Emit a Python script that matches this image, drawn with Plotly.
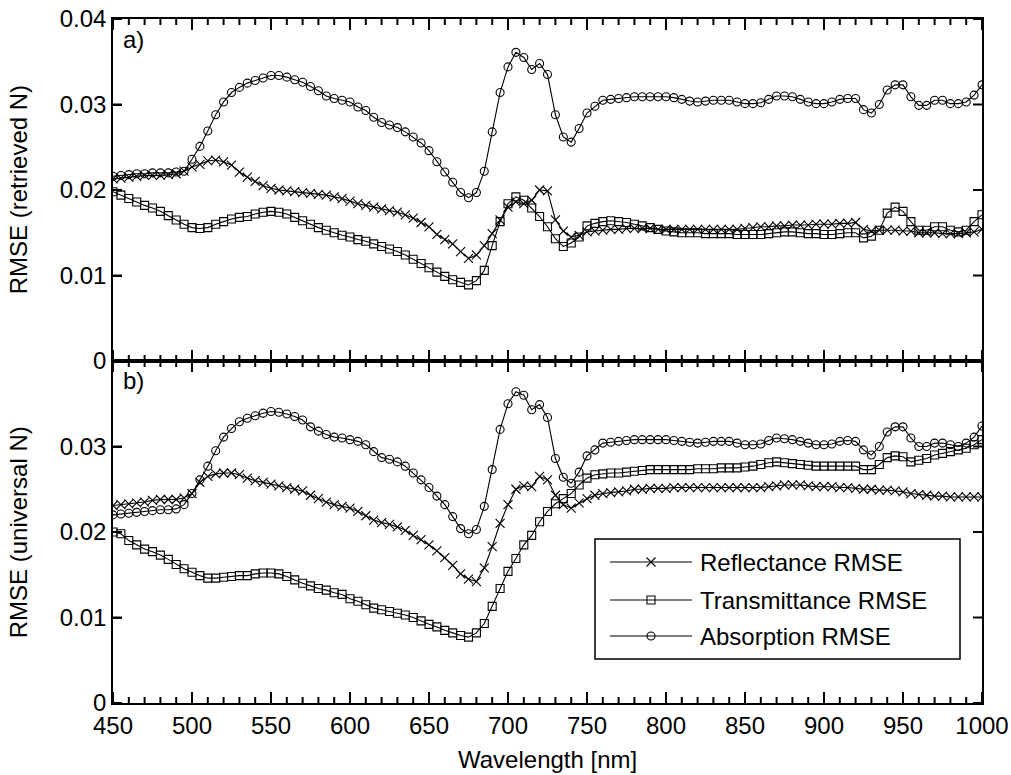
import plotly.graph_objects as go

# Wavelength grid (nm), 5 nm sampling
wavelength = list(range(450, 1001, 5))

# a) RMSE with retrieved N
refl_retrieved = [
    0.0213, 0.0214, 0.0215, 0.0216, 0.0217, 0.0217, 0.0217, 0.0218, 0.0219, 0.0222,
    0.0227, 0.0230, 0.0234, 0.0235, 0.0233, 0.0229, 0.0221, 0.0215, 0.0210, 0.0205,
    0.0202, 0.0200, 0.0199, 0.0198, 0.0197, 0.0196, 0.0195, 0.0194, 0.0192, 0.0190,
    0.0187, 0.0184, 0.0182, 0.0180, 0.0178, 0.0176, 0.0174, 0.0171, 0.0167, 0.0162,
    0.0157, 0.0148, 0.0142, 0.0137, 0.0128, 0.0120, 0.0124, 0.0135, 0.0149, 0.0165,
    0.0180, 0.0186, 0.0184, 0.0188, 0.0200, 0.0199, 0.0165, 0.0152, 0.0145, 0.0147,
    0.0151, 0.0152, 0.0153, 0.0154, 0.0154, 0.0155, 0.0155, 0.0155, 0.0155, 0.0154,
    0.0154, 0.0154, 0.0154, 0.0154, 0.0154, 0.0154, 0.0154, 0.0154, 0.0154, 0.0154,
    0.0155, 0.0156, 0.0157, 0.0157, 0.0158, 0.0158, 0.0159, 0.0159, 0.0159, 0.0160,
    0.0160, 0.0160, 0.0161, 0.0161, 0.0162, 0.0154, 0.0152, 0.0153, 0.0153, 0.0153,
    0.0152, 0.0152, 0.0150, 0.0150, 0.0150, 0.0149, 0.0149, 0.0149, 0.0150, 0.0151,
    0.0154,
]
trans_retrieved = [
    0.0198, 0.0194, 0.0190, 0.0186, 0.0182, 0.0179, 0.0175, 0.0170, 0.0165, 0.0160,
    0.0156, 0.0155, 0.0156, 0.0160, 0.0163, 0.0166, 0.0168, 0.0169, 0.0172, 0.0174,
    0.0175, 0.0174, 0.0172, 0.0168, 0.0164, 0.0160, 0.0156, 0.0153, 0.0150, 0.0147,
    0.0145, 0.0142, 0.0140, 0.0137, 0.0134, 0.0131, 0.0128, 0.0124, 0.0119, 0.0114,
    0.0109, 0.0104, 0.0099, 0.0095, 0.0092, 0.0089, 0.0094, 0.0106, 0.0135, 0.0163,
    0.0184, 0.0192, 0.0188, 0.0179, 0.0169, 0.0157, 0.0143, 0.0134, 0.0138, 0.0145,
    0.0158, 0.0161, 0.0163, 0.0164, 0.0163, 0.0162, 0.0160, 0.0158, 0.0156, 0.0154,
    0.0152, 0.0151, 0.0150, 0.0150, 0.0150, 0.0149, 0.0149, 0.0149, 0.0149, 0.0148,
    0.0148, 0.0148, 0.0148, 0.0149, 0.0150, 0.0151, 0.0151, 0.0150, 0.0149, 0.0149,
    0.0148, 0.0148, 0.0149, 0.0150, 0.0150, 0.0144, 0.0146, 0.0153, 0.0173, 0.0180,
    0.0175, 0.0163, 0.0153, 0.0153, 0.0157, 0.0157, 0.0153, 0.0151, 0.0153, 0.0163,
    0.0171,
]
absor_retrieved = [
    0.0216, 0.0217, 0.0218, 0.0219, 0.0219, 0.0220, 0.0220, 0.0220, 0.0221, 0.0222,
    0.0236, 0.0251, 0.0269, 0.0288, 0.0303, 0.0314, 0.0320, 0.0325, 0.0328, 0.0331,
    0.0334, 0.0334, 0.0332, 0.0329, 0.0326, 0.0321, 0.0316, 0.0310, 0.0307, 0.0305,
    0.0303, 0.0297, 0.0293, 0.0285, 0.0279, 0.0276, 0.0273, 0.0268, 0.0262, 0.0255,
    0.0246, 0.0233, 0.0221, 0.0209, 0.0197, 0.0191, 0.0197, 0.0222, 0.0268, 0.0314,
    0.0344, 0.0361, 0.0355, 0.0341, 0.0348, 0.0335, 0.0288, 0.0262, 0.0256, 0.0272,
    0.0290, 0.0298, 0.0305, 0.0306, 0.0307, 0.0308, 0.0309, 0.0309, 0.0309, 0.0309,
    0.0309, 0.0308, 0.0306, 0.0304, 0.0303, 0.0304, 0.0305, 0.0305, 0.0305, 0.0303,
    0.0301, 0.0301, 0.0302, 0.0306, 0.0310, 0.0310, 0.0309, 0.0306, 0.0303, 0.0301,
    0.0301, 0.0303, 0.0306, 0.0307, 0.0307, 0.0294, 0.0290, 0.0300, 0.0317, 0.0323,
    0.0323, 0.0309, 0.0299, 0.0299, 0.0305, 0.0305, 0.0301, 0.0301, 0.0303, 0.0311,
    0.0323,
]

# b) RMSE with universal N
refl_universal = [
    0.0231, 0.0232, 0.0233, 0.0234, 0.0235, 0.0237, 0.0238, 0.0238, 0.0238, 0.0240,
    0.0245, 0.0258, 0.0265, 0.0268, 0.0269, 0.0269, 0.0267, 0.0263, 0.0260, 0.0258,
    0.0256, 0.0254, 0.0252, 0.0250, 0.0248, 0.0243, 0.0239, 0.0235, 0.0232, 0.0230,
    0.0228, 0.0224, 0.0219, 0.0214, 0.0211, 0.0209, 0.0206, 0.0202, 0.0196, 0.0191,
    0.0185, 0.0178, 0.0170, 0.0161, 0.0151, 0.0145, 0.0142, 0.0158, 0.0183, 0.0210,
    0.0232, 0.0250, 0.0254, 0.0253, 0.0265, 0.0261, 0.0243, 0.0232, 0.0228, 0.0234,
    0.0239, 0.0243, 0.0245, 0.0246, 0.0247, 0.0248, 0.0250, 0.0250, 0.0251, 0.0251,
    0.0251, 0.0252, 0.0252, 0.0252, 0.0252, 0.0252, 0.0252, 0.0252, 0.0252, 0.0252,
    0.0252, 0.0252, 0.0252, 0.0253, 0.0254, 0.0255, 0.0255, 0.0255, 0.0254, 0.0253,
    0.0253, 0.0253, 0.0252, 0.0252, 0.0251, 0.0250, 0.0250, 0.0249, 0.0249, 0.0248,
    0.0247, 0.0245, 0.0244, 0.0243, 0.0242, 0.0242, 0.0241, 0.0241, 0.0241, 0.0241,
    0.0241,
]
trans_universal = [
    0.0200, 0.0198, 0.0190, 0.0185, 0.0180, 0.0177, 0.0173, 0.0168, 0.0162, 0.0157,
    0.0153, 0.0149, 0.0146, 0.0146, 0.0147, 0.0148, 0.0149, 0.0149, 0.0151, 0.0152,
    0.0152, 0.0151, 0.0148, 0.0144, 0.0140, 0.0137, 0.0134, 0.0132, 0.0129, 0.0127,
    0.0122, 0.0119, 0.0115, 0.0111, 0.0109, 0.0107, 0.0105, 0.0103, 0.0100, 0.0096,
    0.0092, 0.0089, 0.0085, 0.0082, 0.0079, 0.0077, 0.0082, 0.0093, 0.0113, 0.0134,
    0.0154, 0.0169, 0.0185, 0.0196, 0.0212, 0.0224, 0.0233, 0.0239, 0.0245, 0.0255,
    0.0263, 0.0267, 0.0268, 0.0269, 0.0269, 0.0270, 0.0271, 0.0272, 0.0273, 0.0273,
    0.0273, 0.0273, 0.0273, 0.0273, 0.0274, 0.0274, 0.0274, 0.0275, 0.0275, 0.0275,
    0.0276, 0.0277, 0.0279, 0.0281, 0.0282, 0.0281, 0.0280, 0.0279, 0.0278, 0.0277,
    0.0277, 0.0277, 0.0277, 0.0277, 0.0277, 0.0273, 0.0273, 0.0279, 0.0287, 0.0289,
    0.0288, 0.0282, 0.0284, 0.0286, 0.0290, 0.0292, 0.0294, 0.0296, 0.0298, 0.0302,
    0.0308,
]
absor_universal = [
    0.0220, 0.0221, 0.0222, 0.0223, 0.0224, 0.0225, 0.0226, 0.0226, 0.0227, 0.0232,
    0.0245, 0.0261, 0.0277, 0.0295, 0.0311, 0.0321, 0.0329, 0.0333, 0.0336, 0.0339,
    0.0341, 0.0340, 0.0338, 0.0335, 0.0331, 0.0323, 0.0318, 0.0314, 0.0311, 0.0310,
    0.0308, 0.0306, 0.0302, 0.0294, 0.0287, 0.0285, 0.0282, 0.0277, 0.0269, 0.0261,
    0.0252, 0.0242, 0.0232, 0.0218, 0.0204, 0.0198, 0.0203, 0.0230, 0.0273, 0.0320,
    0.0350, 0.0364, 0.0360, 0.0343, 0.0349, 0.0334, 0.0286, 0.0264, 0.0257, 0.0270,
    0.0289, 0.0296, 0.0304, 0.0305, 0.0306, 0.0307, 0.0308, 0.0308, 0.0308, 0.0308,
    0.0308, 0.0307, 0.0306, 0.0305, 0.0304, 0.0305, 0.0306, 0.0306, 0.0306, 0.0304,
    0.0302, 0.0302, 0.0303, 0.0307, 0.0310, 0.0309, 0.0308, 0.0306, 0.0304, 0.0302,
    0.0302, 0.0303, 0.0306, 0.0307, 0.0306, 0.0296, 0.0290, 0.0300, 0.0317, 0.0323,
    0.0323, 0.0310, 0.0300, 0.0300, 0.0304, 0.0304, 0.0302, 0.0300, 0.0304, 0.0311,
    0.0324,
]

series_names = ["Reflectance RMSE", "Transmittance RMSE", "Absorption RMSE"]
X_RANGE = [450, 1000]
X_MAJOR, X_MINOR = 50, 10
Y_RANGE = [0, 0.04]
x_tick_marks = list(range(X_RANGE[0], X_RANGE[1] + 1, X_MINOR))
x_tick_labels = list(range(X_RANGE[0], X_RANGE[1] + 1, X_MAJOR))
y_ticks_top = [0, 0.01, 0.02, 0.03, 0.04]
y_ticks_bottom = [0, 0.01, 0.02, 0.03]


def tick_text(vals):
    return ["0" if v == 0 else f"{v:.2f}" for v in vals]


FONT = "Liberation Sans, Arial, Helvetica, sans-serif"
FS = 24
W, H = 1011, 775
ML, MR, MT, MB = 113, 29, 19, 72
PW, PH = W - ML - MR, H - MT - MB
MAJOR_LEN, MINOR_LEN, Y_TICK_LEN = 11, 6, 9

# pixels per data unit inside one panel
PX_PER_X = PW / (X_RANGE[1] - X_RANGE[0])
PX_PER_Y = (PH / 2) / (Y_RANGE[1] - Y_RANGE[0])

symbols = ["x-thin-open", "square-open", "circle-open"]
marker_sizes = [9, 8, 8]

fig = go.Figure()

panels = [
    ("x", "y", [refl_retrieved, trans_retrieved, absor_retrieved]),
    ("x2", "y2", [refl_universal, trans_universal, absor_universal]),
]
for xa, ya, data in panels:
    for name, vals, sym, ms in zip(series_names, data, symbols, marker_sizes):
        fig.add_trace(go.Scatter(
            x=wavelength, y=vals, name=name, mode="lines+markers",
            xaxis=xa, yaxis=ya, showlegend=False,
            line=dict(color="black", width=1.1),
            marker=dict(symbol=sym, size=ms, color="black",
                        line=dict(color="black", width=1.1)),
        ))

# Inward tick marks on all four sides of each panel, one short segment per trace
for xa, ya in [("x", "y"), ("x2", "y2")]:
    segments = []
    for t in x_tick_marks:
        L = MAJOR_LEN if (t - X_RANGE[0]) % X_MAJOR == 0 else MINOR_LEN
        dy = L / PX_PER_Y
        segments.append(([t, t], [Y_RANGE[0], Y_RANGE[0] + dy]))
        segments.append(([t, t], [Y_RANGE[1], Y_RANGE[1] - dy]))
    dx = Y_TICK_LEN / PX_PER_X
    for v in y_ticks_top:
        segments.append(([X_RANGE[0], X_RANGE[0] + dx], [v, v]))
        segments.append(([X_RANGE[1], X_RANGE[1] - dx], [v, v]))
    for sx, sy in segments:
        fig.add_trace(go.Scatter(x=sx, y=sy, mode="lines", xaxis=xa, yaxis=ya,
                                 showlegend=False, hoverinfo="skip",
                                 line=dict(color="black", width=2, simplify=False)))


def px_to_paper(px, py):
    return (px - ML) / PW, (H - MB - py) / PH


def px_to_lower_data(px, py):
    """Pixel position -> data coordinates of the lower panel (x2/y2)."""
    return (X_RANGE[0] + (px - ML) / PX_PER_X,
            Y_RANGE[0] + (H - MB - py) / PX_PER_Y)


# Hand-built legend box in the lower panel
box_l, box_t, box_r, box_b = 595, 539, 960, 659
bx0, by0 = px_to_paper(box_l, box_b)
bx1, by1 = px_to_paper(box_r, box_t)
fig.add_shape(type="rect", xref="paper", yref="paper", x0=bx0, y0=by0, x1=bx1, y1=by1,
              line=dict(color="black", width=1.5), layer="above")
row_y = [562, 600, 636]
for name, sym, ms, ry in zip(series_names, symbols, marker_sizes, row_y):
    (x0, y0), (xm, _), (x1, _) = [px_to_lower_data(px, ry) for px in (610, 651, 692)]
    fig.add_trace(go.Scatter(x=[x0, x1], y=[y0, y0], mode="lines", xaxis="x2", yaxis="y2",
                             showlegend=False, hoverinfo="skip",
                             line=dict(color="black", width=1.1)))
    fig.add_trace(go.Scatter(x=[xm], y=[y0], mode="markers", xaxis="x2", yaxis="y2",
                             showlegend=False, hoverinfo="skip",
                             marker=dict(symbol=sym, size=ms, color="black",
                                         line=dict(color="black", width=1.1))))
    lx, ly = px_to_paper(698, ry)
    fig.add_annotation(x=lx, y=ly, xref="paper", yref="paper", text=name,
                       showarrow=False, xanchor="left", yanchor="middle",
                       font=dict(family=FONT, size=FS, color="black"))

axis_common = dict(showline=True, linecolor="black", linewidth=1.5, mirror=True,
                   ticks="inside", ticklen=9, tickwidth=1.5, tickcolor="black",
                   showgrid=False, zeroline=False, automargin=False,
                   tickfont=dict(family=FONT, size=FS, color="black"))
x_common = dict(axis_common, range=X_RANGE, tickmode="array", tickvals=x_tick_labels,
                ticktext=[str(v) for v in x_tick_labels], ticklen=MAJOR_LEN)
y_common = dict(axis_common, range=Y_RANGE, tickmode="array")

fig.update_layout(
    width=W, height=H,
    margin=dict(l=ML, r=MR, t=MT, b=MB, autoexpand=False),
    paper_bgcolor="white", plot_bgcolor="white",
    font=dict(family=FONT, size=FS, color="black"),
    showlegend=False,
    xaxis=dict(x_common, domain=[0, 1], anchor="y", showticklabels=False),
    yaxis=dict(y_common, domain=[0.5, 1], anchor="x",
               tickvals=y_ticks_top, ticktext=tick_text(y_ticks_top)),
    xaxis2=dict(x_common, domain=[0, 1], anchor="y2", showticklabels=True),
    yaxis2=dict(y_common, domain=[0, 0.5], anchor="x2",
                tickvals=y_ticks_bottom, ticktext=tick_text(y_ticks_bottom)),
)

# Axis titles and panel tags
fig.add_annotation(x=-0.109, y=0.75, xref="paper", yref="paper", text="RMSE (retrieved N)",
                   textangle=-90, showarrow=False, xanchor="center", yanchor="middle",
                   font=dict(family=FONT, size=FS, color="black"))
fig.add_annotation(x=-0.109, y=0.25, xref="paper", yref="paper", text="RMSE (universal N)",
                   textangle=-90, showarrow=False, xanchor="center", yanchor="middle",
                   font=dict(family=FONT, size=FS, color="black"))
fig.add_annotation(x=0.5, y=-0.083, xref="paper", yref="paper", text="Wavelength [nm]",
                   showarrow=False, xanchor="center", yanchor="middle",
                   font=dict(family=FONT, size=FS, color="black"))
for tag, ty in [("a)", 40), ("b)", 380)]:
    tx, tyy = px_to_paper(121, ty)
    fig.add_annotation(x=tx, y=tyy, xref="paper", yref="paper", text=tag,
                       showarrow=False, xanchor="left", yanchor="middle",
                       font=dict(family=FONT, size=FS, color="black"))

fig.write_html("out.html")
